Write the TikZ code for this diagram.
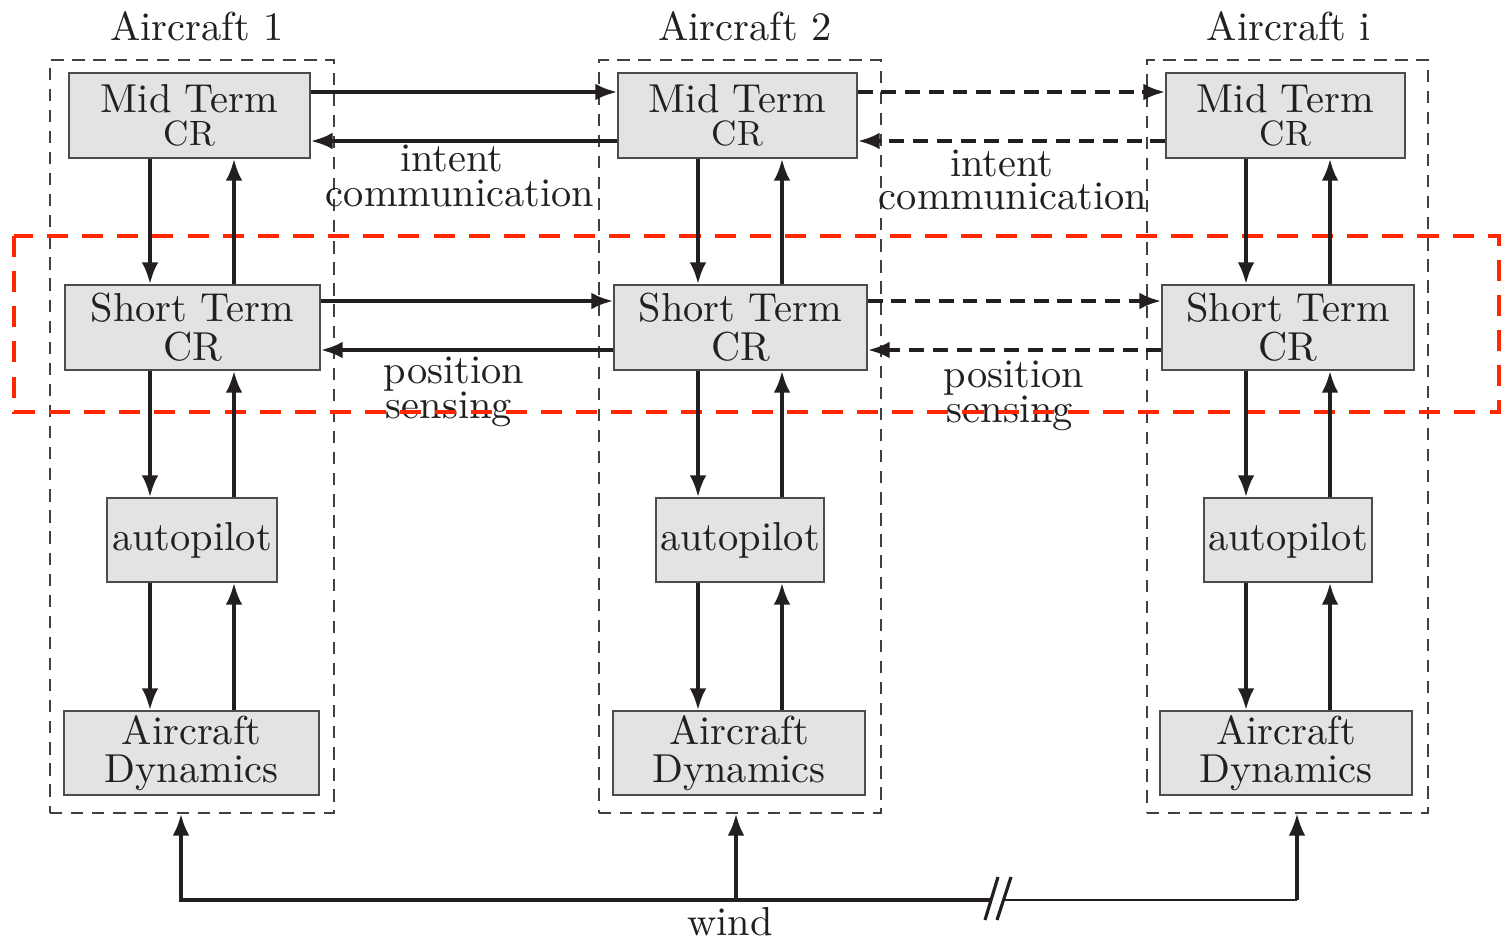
\documentclass[tikz,border=0pt]{standalone}
\usepackage{fontspec}
\setmainfont{lmroman10-regular.otf}
\usetikzlibrary{arrows.meta}
\definecolor{boxgray}{RGB}{226,227,229}
\definecolor{ink}{RGB}{35,31,32}
\definecolor{redd}{RGB}{255,40,0}
\begin{document}
\begin{tikzpicture}[x=0.02cm,y=-0.02cm,
  every node/.style={font=\fontsize{23}{22}\selectfont, text=ink},
  blk/.style={draw=black!70, line width=0.8pt, fill=boxgray, inner sep=0pt, align=center},
  grp/.style={draw=black!75, line width=0.8pt, dash pattern=on 7pt off 5pt, inner sep=0pt},
  arr/.style={draw=ink, line width=2.3pt, -{Latex[length=12.5pt,width=9.5pt]}},
  darr/.style={arr, dash pattern=on 8.5pt off 5pt},
  thinline/.style={draw=ink, line width=1.2pt},
  lbl/.style={anchor=base, inner sep=0pt},
  redbox/.style={draw=redd, line width=2.5pt, dash pattern=on 12pt off 8pt}
]
\useasboundingbox (0,0) rectangle (1505,942);

% group boxes
\node[grp, minimum width=5.68cm, minimum height=15.06cm] (Ac1) at (192,436.5) {};
\node[grp, minimum width=5.64cm, minimum height=15.06cm] (Ac2) at (740,436.5) {};
\node[grp, minimum width=5.62cm, minimum height=15.06cm] (Ac3) at (1287.5,436.5) {};

\node[lbl] (T1) at (197,41) {Aircraft 1};
\node[lbl] (T2) at (745,41) {Aircraft 2};
\node[lbl] (T3) at (1289,41) {Aircraft i};

% column 1
\node[blk, minimum width=4.82cm, minimum height=1.70cm] (M1) at (189.5,115.5) {Mid Term\\[-3pt]{\fontsize{20}{20}\selectfont CR}};
\node[blk, minimum width=5.10cm, minimum height=1.70cm] (S1) at (192.5,327.5) {Short Term\\CR};
\node[blk, minimum width=3.40cm, minimum height=1.68cm] (A1) at (192,540) {autopilot};
\node[blk, minimum width=5.10cm, minimum height=1.68cm] (D1) at (191.5,753) {Aircraft\\Dynamics};
% column 2
\node[blk, minimum width=4.78cm, minimum height=1.70cm] (M2) at (737.5,115.5) {Mid Term\\[-3pt]{\fontsize{20}{20}\selectfont CR}};
\node[blk, minimum width=5.06cm, minimum height=1.70cm] (S2) at (740.5,327.5) {Short Term\\CR};
\node[blk, minimum width=3.36cm, minimum height=1.68cm] (A2) at (740,540) {autopilot};
\node[blk, minimum width=5.04cm, minimum height=1.68cm] (D2) at (739,753) {Aircraft\\Dynamics};
% column 3
\node[blk, minimum width=4.78cm, minimum height=1.70cm] (M3) at (1285.5,115.5) {Mid Term\\[-3pt]{\fontsize{20}{20}\selectfont CR}};
\node[blk, minimum width=5.04cm, minimum height=1.70cm] (S3) at (1288,327.5) {Short Term\\CR};
\node[blk, minimum width=3.36cm, minimum height=1.68cm] (A3) at (1288,540) {autopilot};
\node[blk, minimum width=5.04cm, minimum height=1.68cm] (D3) at (1286,753) {Aircraft\\Dynamics};

% labels
\node[lbl] (L1a) at (452,172) {intent};
\node[lbl] (L1b) at (460,207) {communication};
\node[lbl] (L2a) at (1002,177) {intent};
\node[lbl] (L2b) at (1013,210) {communication};
\node[lbl] (P1a) at (454,384) {position};
\node[lbl] (P1b) at (449,419) {sensing};
\node[lbl] (P2a) at (1014,388) {position};
\node[lbl] (P2b) at (1010,423) {sensing};
\node[lbl] (wind) at (730,935) {wind};

% red highlight
\draw[redbox] (14,236) rectangle (1499,412);

% helper coordinates
\coordinate (d1) at (150,0); \coordinate (u1) at (234,0);
\coordinate (d2) at (698,0); \coordinate (u2) at (782,0);
\coordinate (d3) at (1246,0); \coordinate (u3) at (1330,0);
\coordinate (ya) at (0,92); \coordinate (yb) at (0,141);
\coordinate (yc) at (0,301); \coordinate (yd) at (0,350);

% vertical arrows
\foreach \i in {1,2,3}{
  \draw[arr] (M\i.south -| d\i) -- (S\i.north -| d\i);
  \draw[arr] (S\i.north -| u\i) -- (M\i.south -| u\i);
  \draw[arr] (S\i.south -| d\i) -- (A\i.north -| d\i);
  \draw[arr] (A\i.north -| u\i) -- (S\i.south -| u\i);
  \draw[arr] (A\i.south -| d\i) -- (D\i.north -| d\i);
  \draw[arr] (D\i.north -| u\i) -- (A\i.south -| u\i);
}

% horizontal arrows
\draw[arr] (M1.east |- ya) -- (M2.west |- ya);
\draw[arr] (M2.west |- yb) -- (M1.east |- yb);
\draw[arr] (S1.east |- yc) -- (S2.west |- yc);
\draw[arr] (S2.west |- yd) -- (S1.east |- yd);
\draw[darr] (M2.east |- ya) -- (M3.west |- ya);
\draw[darr] (M3.west |- yb) -- (M2.east |- yb);
\draw[darr] (S2.east |- yc) -- (S3.west |- yc);
\draw[darr] (S3.west |- yd) -- (S2.east |- yd);

% wind
\coordinate (B1) at (181,900);
\coordinate (B2) at (736,900);
\coordinate (B3) at (1297,900);
\coordinate (brkL) at (990,900);
\coordinate (brkR) at (1005,900);
\draw[arr] (brkL) -- (B1) -- (B1 |- Ac1.south);
\draw[arr] (B2) -- (B2 |- Ac2.south);
\draw[thinline] (brkR) -- (B3);
\draw[arr, line width=1.8pt] (B3) -- (B3 |- Ac3.south);
\draw[draw=ink, line width=1.8pt] (985,920) -- (998,877);
\draw[draw=ink, line width=1.8pt] (997,920) -- (1011,877);
\end{tikzpicture}
\end{document}
